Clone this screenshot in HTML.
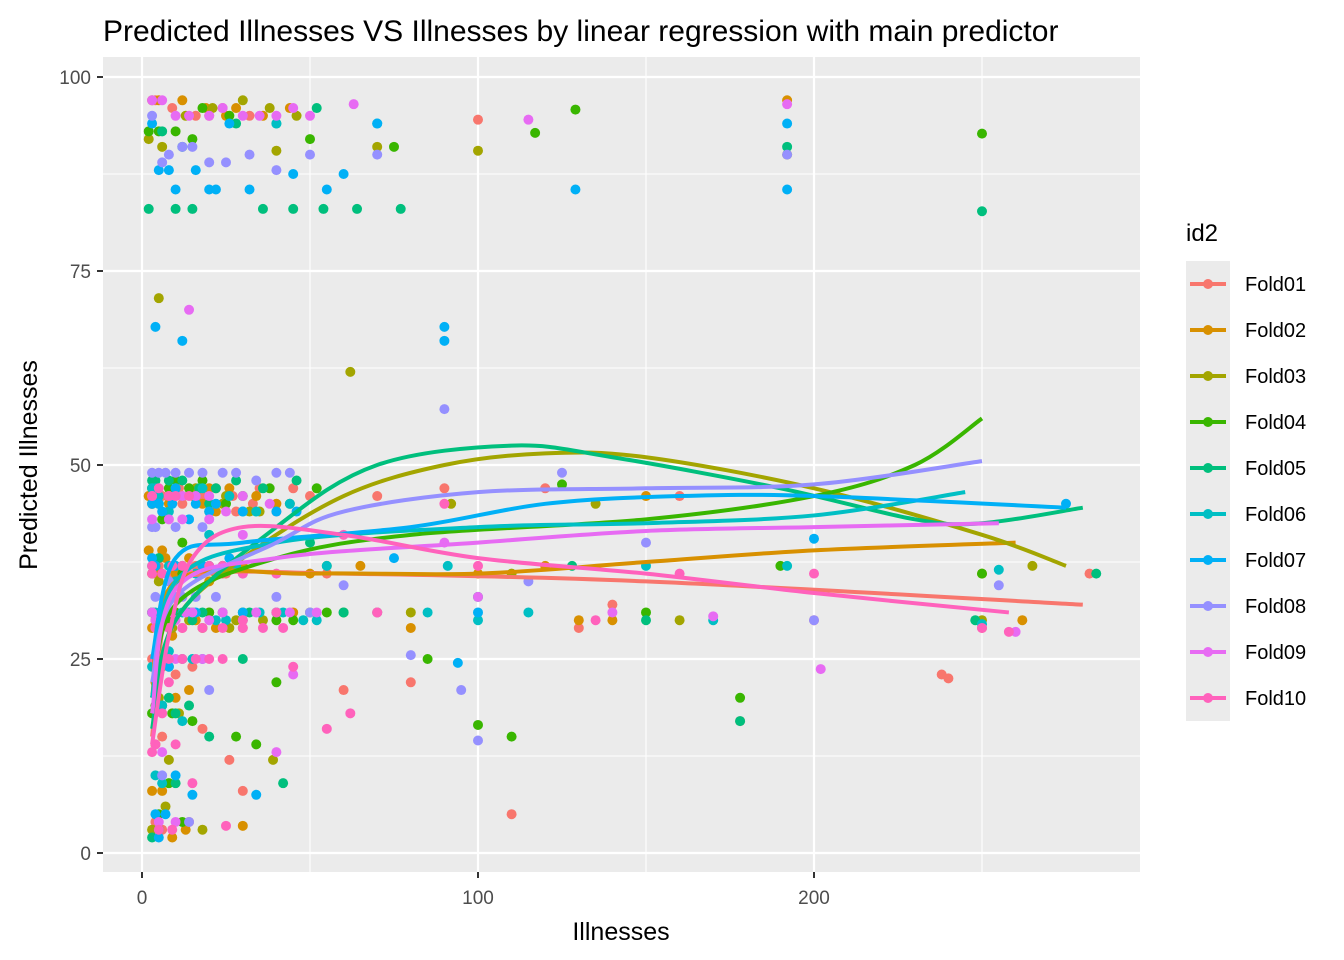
<!DOCTYPE html>
<html><head><meta charset="utf-8"><style>
body{margin:0;background:#fff;font-family:"Liberation Sans",Arial,sans-serif}
svg{display:block}
</style></head><body>
<svg id="chart" width="1344" height="960" xmlns="http://www.w3.org/2000/svg">
<rect x="0" y="0" width="1344" height="960" fill="#fff"/>
<text x="103" y="41" font-size="30" fill="#000" font-family="Liberation Sans, sans-serif">Predicted Illnesses VS Illnesses by linear regression with main predictor</text>
<rect x="103" y="57" width="1037" height="815" fill="#EBEBEB"/>
<g id="grid"></g><g id="pts"></g><g id="lines"></g><g id="axes"></g>
<text x="621" y="940" font-size="25" text-anchor="middle" fill="#000">Illnesses</text>
<text transform="translate(37,465) rotate(-90)" font-size="25" text-anchor="middle" fill="#000">Predicted Illnesses</text>
<g id="legend"></g>
</svg>
<script>
const folds=["Fold01","Fold02","Fold03","Fold04","Fold05","Fold06","Fold07","Fold08","Fold09","Fold10"];
const colors=["#F8766D","#D89000","#A3A500","#39B600","#00BF7D","#00BFC4","#00B0F6","#9590FF","#E76BF3","#FF62BC"];
const xTicks=[0,100,200];
const yTicks=[0,25,50,75,100];
const pts01=[[2,46],[5,37],[8,30],[3,25],[12,45],[20,95],[25,36],[30,8],[40,31],[55,36],[70,46],[80,22],[100,94.5],[90,47],[110,5],[120,47],[130,29],[140,32],[160,46],[178,17],[200,30],[238,23],[240,22.5],[250,29],[282,36],[4,4],[6,15],[15,24],[60,21],[35,47],[10,46],[18,46],[28,44],[45,47],[3,45],[7,31],[14,36],
[4,97],[9,96],[16,95],[24,96],[32,95],[3,47],[6,46],[11,47],[17,46],[22,47],[27,46],[33,45],[40,44],[50,46],[3,36],[9,36],[16,37],[24,36],[4,30],[12,29],[20,31],[30,29],[5,20],[10,23],[18,16],[26,12],[6,3],[14,4]];
const pts02=[[3,97],[6,39],[10,36],[15,46],[25,95],[30,3.5],[45,31],[65,37],[80,29],[100,36],[130,30],[150,46],[192,97],[250,36],[262,30],[3,8],[10,20],[20,47],[50,36],[120,37],[140,30],[4,14],[8,24],[12,46],[22,44],[30,37],[5,30],[16,30],[40,45],
[5,97],[12,97],[19,96],[28,96],[36,95],[44,96],[2,39],[7,38],[14,38],[2,46],[8,45],[18,45],[26,47],[34,46],[4,36],[11,35],[20,35],[3,29],[9,28],[22,29],[6,8],[9,2],[13,3],[4,22],[14,21]];
const pts03=[[2,92],[5,71.5],[15,31],[25,46],[40,90.5],[62,62],[70,91],[100,90.5],[92,45],[135,45],[192,90],[265,37],[3,3],[8,12],[20,44],[39,12],[55,37],[80,31],[110,36],[160,30],[250,30],[5,35],[12,25],[9,29],[18,29],[28,30],[35,44],[50,31],[4,47],
[6,91],[13,95],[21,96],[30,97],[38,96],[46,95],[3,45],[8,46],[16,47],[24,45],[32,44],[44,45],[3,36],[10,37],[22,36],[4,30],[14,30],[26,29],[36,30],[5,20],[11,18],[7,6],[18,3],[6,24]];
const pts04=[[2,93],[8,47],[15,92],[30,30],[50,92],[75,91],[117,92.8],[129,95.8],[178,20],[100,16.5],[110,15],[150,31],[250,92.7],[3,18],[12,40],[20,31],[40,22],[60,31],[85,25],[125,47.5],[190,37],[250,36],[5,5],[8,30],[14,47],[25,45],[6,43],[45,30],[70,31],
[5,93],[10,93],[18,96],[26,95],[3,47],[10,48],[18,48],[30,46],[38,47],[52,47],[4,37],[12,36],[24,37],[3,31],[10,31],[30,31],[40,30],[55,31],[4,19],[9,18],[15,17],[28,15],[34,14],[8,9],[12,4]];
const pts05=[[2,83],[10,83],[20,45],[36,83],[45,83],[54,83],[64,83],[77,83],[5,45],[10,18],[30,25],[50,40],[100,33],[128,37],[150,30],[178,17],[192,91],[250,82.7],[248,30],[284,36],[3,2],[15,30],[60,31],[42,9],[4,48],[12,48],[22,47],[8,20],[18,31],
[15,83],[28,94],[40,94],[52,96],[6,93],[12,91],[3,48],[8,48],[17,47],[28,48],[36,47],[46,48],[5,38],[12,37],[20,37],[3,31],[9,31],[24,31],[32,31],[6,19],[14,19],[20,15],[5,3],[10,9]];
const pts06=[[3,47],[8,44],[12,31],[20,41],[40,94],[70,94],[85,31],[100,30],[115,31],[150,37],[170,30],[192,37],[250,29.5],[255,36.5],[3,24],[6,9],[10,35],[30,44],[55,37],[91,37],[5,46],[16,46],[25,30],[35,31],[48,30],[8,26],
[4,47],[10,47],[18,47],[26,46],[34,44],[44,45],[3,37],[8,37],[16,36],[28,37],[4,31],[14,31],[22,30],[42,31],[52,30],[5,25],[15,25],[6,19],[12,17],[4,10]];
const pts07=[[4,67.8],[12,66],[8,88],[20,85.5],[32,85.5],[45,87.5],[55,85.5],[60,87.5],[70,94],[90,67.8],[90,66],[129,85.5],[192,85.5],[192,94],[94,24.5],[5,2],[10,47],[20,44],[40,44],[75,38],[100,31],[200,40.5],[275,45],[34,7.5],[15,7.5],[3,45],[6,44],[14,43],[26,38],[4,37],
[5,88],[10,85.5],[16,88],[22,85.5],[26,94],[3,94],[5,45],[9,45],[16,45],[22,45],[30,44],[46,44],[3,38],[10,37],[18,37],[6,30],[16,31],[30,31],[40,31],[8,24],[18,25],[10,10],[4,5],[7,5]];
const pts08=[[3,95],[8,90],[15,91],[25,89],[40,88],[50,90],[70,90],[90,57.2],[100,14.5],[95,21],[125,49],[150,40],[192,90],[200,30],[255,34.5],[5,49],[12,33],[30,36],[60,34.5],[80,25.5],[115,35],[4,42],[20,21],[10,49],[18,49],[28,49],[44,49],[8,35],[22,33],
[6,89],[12,91],[20,89],[32,90],[3,49],[7,49],[14,49],[24,49],[34,48],[40,49],[3,42],[10,42],[18,42],[4,33],[10,33],[16,33],[40,33],[50,31],[4,25],[12,25],[6,10],[14,4]];
const pts09=[[3,97],[10,95],[20,95],[35,95],[50,95],[63,96.5],[14,70],[45,96],[115,94.5],[192,96.5],[8,43],[15,31],[30,41],[45,23],[70,31],[90,40],[100,33],[140,31],[170,30.5],[202,23.7],[260,28.5],[5,4],[40,13],[4,30],[10,30],[20,30],[30,30],[12,46],[25,44],[6,25],
[6,97],[14,95],[24,96],[30,95],[40,95],[3,46],[8,46],[16,46],[20,46],[30,46],[38,45],[3,43],[12,43],[20,43],[3,31],[8,31],[13,31],[24,31],[34,31],[44,31],[52,31],[4,25],[10,25],[18,25],[6,13],[10,4]];
const pts10=[[5,47],[10,46],[20,37],[30,30],[45,24],[55,16],[62,18],[70,31],[90,45],[100,37],[135,30],[160,36],[200,36],[250,29],[258,28.5],[3,13],[8,22],[4,14],[15,9],[25,3.5],[40,31],[60,41],[3,36],[9,37],[14,36],[4,25],[12,25],[20,25],
[3,46],[8,46],[14,46],[3,37],[6,36],[12,37],[18,36],[24,37],[30,36],[40,36],[4,29],[8,29],[12,29],[18,29],[24,29],[30,29],[36,29],[42,29],[5,25],[8,25],[16,25],[24,25],[6,18],[10,14],[5,3],[9,3]];
const fit01=[[3,15],[8,33],[20,36],[60,36],[150,35],[280,32]];
const fit02=[[3,20],[10,35],[50,36],[100,36],[150,37.5],[200,39],[260,40]];
const fit03=[[3,18],[10,30],[30,38],[60,46],[90,50],[120,51.5],[150,51],[200,47],[250,41],[275,37]];
const fit04=[[3,20],[10,32],[40,38],[80,41],[150,43],[200,46],[230,50],[250,56]];
const fit05=[[3,16],[10,30],[40,42],[70,50],[110,52.5],[140,51],[190,47],[230,43],[250,42.5],[280,44.5]];
const fit06=[[3,20],[10,35],[40,40],[100,42],[150,42.5],[200,43.5],[245,46.5]];
const fit07=[[3,25],[10,38],[30,40],[80,42],[120,45],[160,46],[200,46],[275,44.5]];
const fit08=[[3,22],[10,33],[40,40],[60,44],[100,46.5],[150,47],[200,47.5],[250,50.5]];
const fit09=[[3,18],[10,34],[40,38],[100,40],[150,41.5],[200,42],[255,42.5]];
const fit10=[[3,14],[8,28],[15,38],[30,42],[60,41],[100,38],[150,36],[200,33.5],[258,31]];
const allPts=[pts01,pts02,pts03,pts04,pts05,pts06,pts07,pts08,pts09,pts10];
const allFits=[fit01,fit02,fit03,fit04,fit05,fit06,fit07,fit08,fit09,fit10];

const NS="http://www.w3.org/2000/svg";
const X=v=>142+v*3.36, Y=v=>853-v*7.76;
const L={x0:103,x1:1140,y0:57,y1:872};
function mk(t,a,p){const e=document.createElementNS(NS,t);for(const k in a)e.setAttribute(k,a[k]);p.appendChild(e);return e;}
const grid=document.getElementById('grid');
[12.5,37.5,62.5,87.5].forEach(v=>{const e=mk('line',{x1:L.x0,x2:L.x1,y1:Y(v),y2:Y(v),stroke:'#fff','stroke-width':1.1},grid);

});
[50,150,250].forEach(v=>{const e=mk('line',{x1:X(v),x2:X(v),y1:L.y0,y2:L.y1,stroke:'#fff','stroke-width':1.1},grid);

});
const axes=document.getElementById('axes');
yTicks.forEach(v=>{const e=mk('line',{x1:L.x0,x2:L.x1,y1:Y(v),y2:Y(v),stroke:'#fff','stroke-width':2.2},grid);


const t=mk('line',{x1:97,x2:103,y1:Y(v),y2:Y(v),stroke:'#333','stroke-width':2},axes);


const l=mk('text',{x:91,y:Y(v)+7,'font-size':19,'text-anchor':'end',fill:'#4d4d4d'},axes);l.textContent=v;

});
xTicks.forEach(v=>{const e=mk('line',{x1:X(v),x2:X(v),y1:L.y0,y2:L.y1,stroke:'#fff','stroke-width':2.2},grid);


const t=mk('line',{x1:X(v),x2:X(v),y1:872,y2:878,stroke:'#333','stroke-width':2},axes);


const l=mk('text',{x:X(v),y:904,'font-size':19,'text-anchor':'middle',fill:'#4d4d4d'},axes);l.textContent=v;

});
const pg=document.getElementById('pts');
allPts.forEach((arr,i)=>arr.forEach(p=>{const c=mk('circle',{cx:X(p[0]),cy:Y(p[1]),r:5,fill:colors[i]},pg);

}));
const lg=document.getElementById('lines');
function spline(ps){let d='M'+ps[0][0]+','+ps[0][1];for(let i=0;i<ps.length-1;i++){const p0=ps[i-1]||ps[i],p1=ps[i],p2=ps[i+1],p3=ps[i+2]||p2;
d+=' C'+(p1[0]+(p2[0]-p0[0])/6)+','+(p1[1]+(p2[1]-p0[1])/6)+' '+(p2[0]-(p3[0]-p1[0])/6)+','+(p2[1]-(p3[1]-p1[1])/6)+' '+p2[0]+','+p2[1];}return d;}
allFits.forEach((f,i)=>{const ps=f.map(p=>[X(p[0]),Y(p[1])]);const e=mk('path',{d:spline(ps),fill:'none',stroke:colors[i],'stroke-width':4},lg);

});
const leg=document.getElementById('legend');
const lt=mk('text',{x:1186,y:241,'font-size':24,fill:'#000'},leg);lt.textContent='id2';


folds.forEach((f,i)=>{const cy=284+i*46;const g=mk('g',{},leg);


mk('rect',{x:1186,y:cy-23,width:44,height:46,fill:'#EBEBEB'},g);
mk('line',{x1:1190,x2:1226,y1:cy,y2:cy,stroke:colors[i],'stroke-width':4},g);
mk('circle',{cx:1208,cy:cy,r:5,fill:colors[i]},g);
const t=mk('text',{x:1245,y:cy+7,'font-size':20,fill:'#000'},g);t.textContent=f;});
</script>
</body></html>
